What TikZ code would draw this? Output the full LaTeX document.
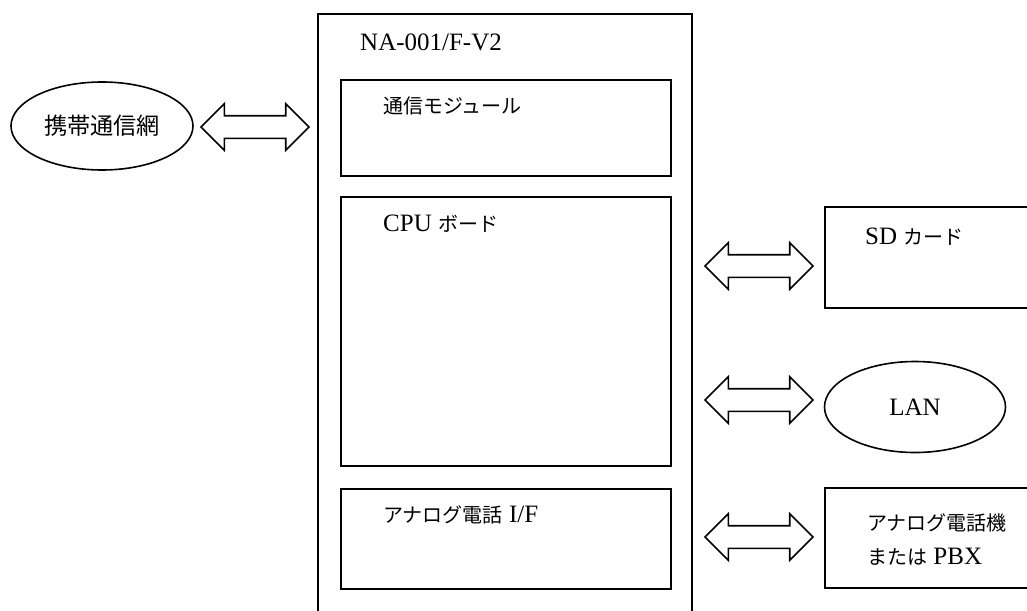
\documentclass[tikz,border=0pt]{standalone}
\usepackage{fontspec}
\setmainfont{Liberation Serif}
\newfontfamily\jp[Scale=0.8]{Noto Sans CJK JP}
\usetikzlibrary{shapes.geometric,shapes.arrows}

\tikzset{
  blk/.style={draw,line width=1.6pt,inner sep=0pt},
  lbl/.style={inner sep=0pt,anchor=west,font=\fontsize{25}{30}\selectfont},
  bus/.style={draw,line width=1.6pt,double arrow,inner xsep=0pt,inner ysep=10.5pt,
    double arrow head extend=12pt,minimum height=108pt}
}

\begin{document}
\begin{tikzpicture}[x=1pt,y=-1pt]
			\useasboundingbox (0,0) rectangle (1027,610);
			% device
			\node[blk,minimum width=374pt,minimum height=660pt] (dev) at (505,344) {};
			\node[lbl] (devname) at (360,42) {NA-001/F-V2};
			\node[blk,minimum width=330pt,minimum height=96pt] (comm) at (506,128) {};
			\node[lbl] (commtxt) at (383,106) {\jp 通信モジュール};
			\node[blk,minimum width=330pt,minimum height=269pt] (cpu) at (506,331.5) {};
			\node[lbl] (cputxt) at (383,224) {CPU {\jp ボード}};
			\node[blk,minimum width=330pt,minimum height=100pt] (aif) at (506,539) {};
			\node[lbl] (aiftxt) at (383,515) {{\jp アナログ電話} I/F};
			% outside
			\node[blk,ellipse,minimum width=182pt,minimum height=88pt,font=\fontsize{29}{34}\selectfont\jp] (net) at (102,126) {携帯通信網};
			\node[blk,minimum width=240pt,minimum height=101pt] (sd) at (945,257.5) {};
			\node[lbl] (sdtxt) at (865,237) {SD {\jp カード}};
			\node[blk,ellipse,minimum width=181pt,minimum height=91pt,font=\fontsize{25}{30}\selectfont] (lan) at (915,407) {LAN};
			\node[blk,minimum width=240pt,minimum height=100pt] (tel) at (945,538) {};
			\node[lbl] (teltxt1) at (867,523) {\jp アナログ電話機};
			\node[lbl] (teltxt2) at (867,557) {{\jp または} PBX};
			% links
			\node[bus] (l1) at (255,127) {};
			\node[bus] (l2) at (759,266) {};
			\node[bus] (l3) at (759,400) {};
			\node[bus] (l4) at (759,537) {};
\end{tikzpicture}
\end{document}
